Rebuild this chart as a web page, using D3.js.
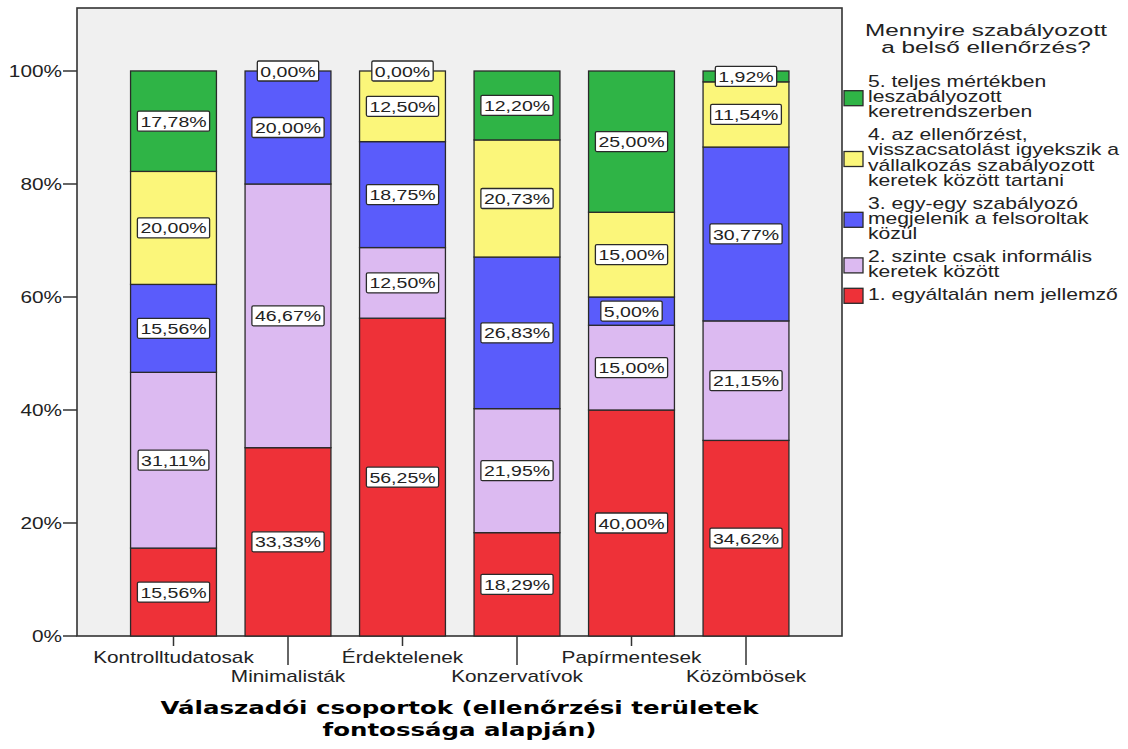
<!DOCTYPE html>
<html>
<head>
<meta charset="utf-8">
<script src="https://d3js.org/d3.v7.min.js"></script>
<style>
  html, body { margin: 0; padding: 0; background: #ffffff; }
  svg { display: block; }
</style>
</head>
<body>
<svg id="chart" width="1128" height="749"></svg>
<script>
// ---- data ----
const categories = ["Kontrolltudatosak", "Minimalisták", "Érdektelenek", "Konzervatívok", "Papírmentesek", "Közömbösek"];
const series1 = [15.56, 33.33, 56.25, 18.29, 40.00, 34.62]; // 1. egyáltalán nem jellemző
const series2 = [31.11, 46.67, 12.50, 21.95, 15.00, 21.15]; // 2. szinte csak informális
const series3 = [15.56, 20.00, 18.75, 26.83, 5.00, 30.77];  // 3. egy-egy szabályozó
const series4 = [20.00, 0.00, 12.50, 20.73, 15.00, 11.54];  // 4. az ellenőrzést...
const series5 = [17.78, null, 0.00, 12.20, 25.00, 1.92];    // 5. teljes mértékben
const seriesLegend = [
  ["1. egyáltalán nem jellemző"],
  ["2. szinte csak informális", "keretek között"],
  ["3. egy-egy szabályozó", "megjelenik a felsoroltak", "közül"],
  ["4. az ellenőrzést,", "visszacsatolást igyekszik a", "vállalkozás szabályozott", "keretek között tartani"],
  ["5. teljes mértékben", "leszabályozott", "keretrendszerben"]
];
const seriesColors = ["#ee3138", "#dcbaf1", "#5a5cfb", "#fbf67a", "#2fb446"];
const yTicks = [0, 20, 40, 60, 80, 100];
const legendTitle = ["Mennyire szabályozott", "a belső ellenőrzés?"];
const xTitle = ["Válaszadói csoportok (ellenőrzési területek", "fontossága alapján)"];

const allSeries = [series1, series2, series3, series4, series5];

// ---- layout ----
const SX = 1.3; // horizontal stretch of the original picture
const frame = { left: 77, right: 842, top: 8, bottom: 636 };
const svg = d3.select("#chart");
const FONT = "'Liberation Sans', Arial, sans-serif";

const x = d3.scaleBand().domain(categories).range([116.25, 803.25]).paddingInner(0.25).paddingOuter(0.125);
const y = d3.scaleLinear().domain([0, 111.15]).range([frame.bottom, frame.top]);

function sText(g, tx, ty, str, opts) {
  const t = g.append("text")
    .attr("transform", `translate(${tx},${ty}) scale(${opts.sx || SX},1)`)
    .attr("font-family", opts.family || FONT)
    .attr("font-size", opts.size || 15)
    .attr("font-weight", opts.weight || "normal")
    .attr("fill", opts.fill || "#222")
    .attr("text-anchor", opts.anchor || "start")
    .text(str);
  if (opts.dy) t.attr("dy", opts.dy);
  return t;
}

// plot background
svg.append("rect")
  .attr("x", frame.left).attr("y", frame.top)
  .attr("width", frame.right - frame.left).attr("height", frame.bottom - frame.top)
  .attr("fill", "#f0f0f0").attr("stroke", "#333").attr("stroke-width", 1.6);

// stacked bars
const segs = [];
categories.forEach((c, i) => {
  let base = 0;
  allSeries.forEach((s, k) => {
    const v = s[i];
    if (v === null) return;
    segs.push({ cat: c, k, v, y0: base, y1: base + v });
    base += v;
  });
});

const gBars = svg.append("g");
gBars.selectAll("rect").data(segs.filter(d => d.v > 0)).join("rect")
  .attr("x", d => x(d.cat))
  .attr("width", x.bandwidth())
  .attr("y", d => y(d.y1))
  .attr("height", d => y(d.y0) - y(d.y1))
  .attr("fill", d => seriesColors[d.k])
  .attr("stroke", "#2a2a2a").attr("stroke-width", 1.3);

// value labels
const gLab = svg.append("g");
segs.forEach(d => {
  const cx = x(d.cat) + x.bandwidth() / 2;
  const cy = y((d.y0 + d.y1) / 2);
  const str = d.v.toFixed(2).replace(".", ",") + "%";
  const g = gLab.append("g");
  const rect = g.append("rect");
  const t = sText(g, cx, cy, str, { anchor: "middle", dy: "0.36em", size: 15.5, fill: "#222", sx: 1.26 });
  const w = t.node().getComputedTextLength() * 1.26 + 6;
  rect.attr("x", cx - w / 2).attr("y", cy - 10).attr("width", w).attr("height", 20)
    .attr("fill", "#ffffff").attr("stroke", "#2a2a2a").attr("stroke-width", 1.3).attr("rx", 1.5);
});

// y axis
const gY = svg.append("g");
yTicks.forEach(v => {
  gY.append("line").attr("x1", frame.left - 14).attr("x2", frame.left)
    .attr("y1", y(v)).attr("y2", y(v)).attr("stroke", "#333").attr("stroke-width", 1.5);
  sText(gY, frame.left - 15, y(v), v + "%", { anchor: "end", dy: "0.36em", size: 16 });
});

// x axis ticks & labels (staggered)
const gX = svg.append("g");
categories.forEach((c, i) => {
  const cx = x(c) + x.bandwidth() / 2;
  const long = i % 2 === 1;
  gX.append("line").attr("x1", cx).attr("x2", cx)
    .attr("y1", frame.bottom).attr("y2", frame.bottom + (long ? 29 : 10))
    .attr("stroke", "#333").attr("stroke-width", 1.5);
  sText(gX, cx, long ? 682 : 663, c, { anchor: "middle", size: 16 });
});

// x title
xTitle.forEach((line, i) => {
  sText(svg, (frame.left + frame.right) / 2, 714 + i * 22, line,
    { anchor: "middle", size: 18, weight: "bold", family: "'DejaVu Sans', Verdana, sans-serif", fill: "#000", sx: 1.36 });
});

// legend
const gL = svg.append("g");
legendTitle.forEach((line, i) => {
  sText(gL, 986, 36 + i * 17, line, { anchor: "middle", size: 17, sx: 1.43 });
});
const lh = 15.2, gap = 7.6;
let yb = 87;
const order = [4, 3, 2, 1, 0];
order.forEach(k => {
  const lines = seriesLegend[k];
  const top = yb - 11.5;
  const bottom = yb + (lines.length - 1) * lh + 3.5;
  const mid = (top + bottom) / 2;
  gL.append("rect").attr("x", 844).attr("y", mid - 7.5).attr("width", 19).attr("height", 15)
    .attr("fill", seriesColors[k]).attr("stroke", "#2a2a2a").attr("stroke-width", 1.3);
  lines.forEach((ln, j) => {
    sText(gL, 868, yb + j * lh, ln, { size: 16, sx: 1.32 });
  });
  yb += lines.length * lh + gap;
});
</script>
</body>
</html>
